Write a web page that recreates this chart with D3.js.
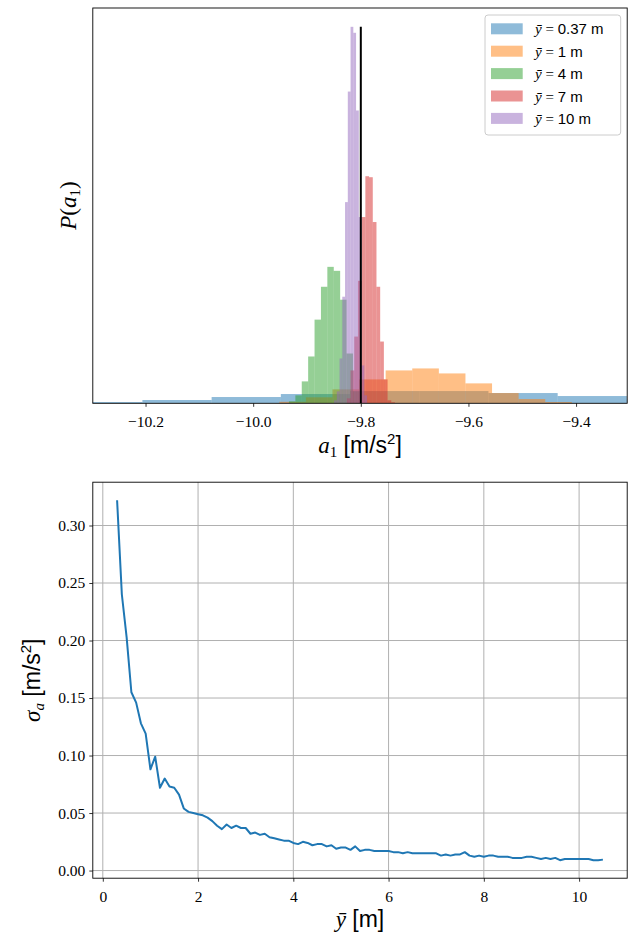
<!DOCTYPE html>
<html>
<head>
<meta charset="utf-8">
<script src="https://cdn.jsdelivr.net/npm/d3@7"></script>
<style>
  body { margin: 0; background: #fff; }
  svg { display: block; }
</style>
</head>
<body>
<script>
// ---- data ----
const meanHeights = ["0.37", "1", "4", "7", "10"];
const binStart = [-10.463, -9.9515, -9.9335, -9.8259, -9.8497];
const binWidth = [0.1286, 0.04942, 0.01189, 0.006875, 0.00511];
const dens037 = [0.05, 0.13, 0.33, 0.63, 0.93, 1.23, 1.23, 1.03, 0.73, 0.4];
const dens1 = [0.15, 0.6, 1.4, 2.4, 3.3, 3.5, 3.0, 2.0, 1.03, 0.43, 0.13];
const dens4 = [0.2, 0.8, 2.2, 4.7, 8.4, 11.7, 13.7, 13.3, 10.4, 5.0, 1.2];
const dens7 = [0.5, 3.3, 6.7, 12.3, 18.7, 22.8, 22.7, 18.2, 11.7, 6.2, 2.4, 0.3, 0.1];
const dens10 = [0.3, 1.2, 4.5, 10.7, 20.2, 31.3, 37.8, 37.2, 29.4, 18.7, 3.8, 0.8];
const gRef = -9.8;
const a1Ticks = [-10.2, -10.0, -9.8, -9.6, -9.4];

const yBar = [0.3, 0.4, 0.5, 0.6, 0.7, 0.8, 0.9, 1.0, 1.1, 1.2, 1.3, 1.4, 1.5, 1.6, 1.7, 1.8, 1.9,
  2.0, 2.1, 2.2, 2.3, 2.4, 2.5, 2.6, 2.7, 2.8, 2.9, 3.0, 3.1, 3.2, 3.3, 3.4, 3.5, 3.6, 3.7, 3.8, 3.9,
  4.0, 4.1, 4.2, 4.3, 4.4, 4.5, 4.6, 4.7, 4.8, 4.9, 5.0, 5.1, 5.2, 5.3, 5.4, 5.5, 5.6, 5.7, 5.8, 5.9,
  6.0, 6.1, 6.2, 6.3, 6.4, 6.5, 6.6, 6.7, 6.8, 6.9, 7.0, 7.1, 7.2, 7.3, 7.4, 7.5, 7.6, 7.7, 7.8, 7.9,
  8.0, 8.1, 8.2, 8.3, 8.4, 8.5, 8.6, 8.7, 8.8, 8.9, 9.0, 9.1, 9.2, 9.3, 9.4, 9.5, 9.6, 9.7, 9.8, 9.9,
  10.0, 10.1, 10.2, 10.3, 10.4, 10.5];
const sigmaA = [0.322, 0.240, 0.203, 0.155, 0.146, 0.128, 0.119, 0.088, 0.099, 0.072, 0.080, 0.073, 0.072, 0.066, 0.054, 0.051, 0.050,
  0.049, 0.048, 0.046, 0.043, 0.039, 0.036, 0.040, 0.037, 0.039, 0.037, 0.037, 0.032, 0.033, 0.031, 0.032, 0.029, 0.028, 0.027, 0.026, 0.026,
  0.024, 0.023, 0.025, 0.024, 0.022, 0.023, 0.023, 0.021, 0.022, 0.019, 0.020, 0.020, 0.018, 0.021, 0.017, 0.018, 0.018, 0.017, 0.017, 0.017,
  0.017, 0.016, 0.016, 0.015, 0.016, 0.015, 0.015, 0.015, 0.015, 0.015, 0.015, 0.013, 0.014, 0.013, 0.014, 0.014, 0.016, 0.013, 0.012, 0.013,
  0.012, 0.013, 0.013, 0.012, 0.012, 0.012, 0.011, 0.011, 0.011, 0.012, 0.012, 0.011, 0.010, 0.011, 0.010, 0.011, 0.009, 0.010, 0.010, 0.010,
  0.010, 0.010, 0.010, 0.009, 0.009, 0.0095];
const yBarTicks = [0, 2, 4, 6, 8, 10];
const sigmaTicks = [0, 0.05, 0.10, 0.15, 0.20, 0.25, 0.30];

const colors = ["#1f77b4", "#ff7f0e", "#2ca02c", "#d62728", "#9467bd"];
const serif = "'Liberation Serif', 'DejaVu Serif', serif";
const sans = "'Liberation Sans', Arial, sans-serif";

const W = 631, H = 938;
const svg = d3.select("body").append("svg").attr("width", W).attr("height", H);

// ---- top panel: histograms ----
const topBox = { left: 92.8, top: 8, width: 534.4, height: 395.3 };
const hists = [dens037, dens1, dens4, dens7, dens10].map((dens, i) =>
  dens.map((d, k) => ({ x0: binStart[i] + k * binWidth[i], x1: binStart[i] + (k + 1) * binWidth[i], d, i })));

const x1 = d3.scaleLinear().domain([-10.298, -9.305]).range([0, topBox.width]);
const yMax = d3.max(hists.flat(), b => b.d);
const y1 = d3.scaleLinear().domain([0, yMax * 1.05]).range([topBox.height, 0]);

const g1 = svg.append("g").attr("transform", `translate(${topBox.left},${topBox.top})`);
svg.append("clipPath").attr("id", "clipTop").append("rect")
  .attr("width", topBox.width).attr("height", topBox.height);

const plot1 = g1.append("g").attr("clip-path", "url(#clipTop)");
hists.forEach(h => {
  plot1.selectAll(null)
    .data(h)
    .join("rect")
      .attr("x", b => x1(b.x0))
      .attr("y", b => y1(b.d))
      .attr("width", b => x1(b.x1) - x1(b.x0))
      .attr("height", b => y1(0) - y1(b.d))
      .attr("fill", b => colors[b.i])
      .attr("fill-opacity", 0.5);
});

plot1.append("line")
  .attr("x1", x1(gRef)).attr("x2", x1(gRef))
  .attr("y1", y1(0)).attr("y2", y1(d3.max(dens10)))
  .attr("stroke", "#000").attr("stroke-width", 2);

const ax1 = g1.append("g")
  .attr("transform", `translate(0,${topBox.height})`)
  .call(d3.axisBottom(x1).tickValues(a1Ticks).tickFormat(d3.format(".1f"))
    .tickSize(3.5).tickSizeOuter(0).tickPadding(9.5));
ax1.select(".domain").remove();
ax1.selectAll("line").attr("stroke", "#000").attr("stroke-width", 0.8);
ax1.selectAll("text").attr("font-family", serif).attr("font-size", 15.5).attr("fill", "#000");

g1.append("rect").attr("width", topBox.width).attr("height", topBox.height)
  .attr("fill", "none").attr("stroke", "#000").attr("stroke-width", 0.9);

// axis labels
const xl1 = g1.append("text")
  .attr("x", topBox.width / 2).attr("y", topBox.height + 49.5)
  .attr("text-anchor", "middle").attr("font-size", 23);
xl1.append("tspan").attr("font-family", serif).attr("font-style", "italic").text("a");
xl1.append("tspan").attr("font-family", serif).attr("font-size", 15).attr("dy", 4).text("1");
xl1.append("tspan").attr("font-family", sans).attr("dy", -4).text(" [m/s");
xl1.append("tspan").attr("font-family", sans).attr("font-size", 15).attr("dy", -9).text("2");
xl1.append("tspan").attr("font-family", sans).attr("dy", 9).text("]");

const yl1 = g1.append("text")
  .attr("transform", `translate(-17,${topBox.height / 2}) rotate(-90)`)
  .attr("text-anchor", "middle").attr("font-size", 23).attr("font-family", serif);
yl1.append("tspan").attr("font-style", "italic").text("P");
yl1.append("tspan").text("(");
yl1.append("tspan").attr("font-style", "italic").text("a");
yl1.append("tspan").attr("font-size", 15).attr("dy", 4).text("1");
yl1.append("tspan").attr("dy", -4).text(")");

// legend
const lg = g1.append("g").attr("transform", "translate(392.2,7)");
lg.append("rect").attr("width", 135.7).attr("height", 120).attr("rx", 3)
  .attr("fill", "#fff").attr("fill-opacity", 0.8).attr("stroke", "#ccc").attr("stroke-width", 1);
meanHeights.forEach((m, i) => {
  const row = lg.append("g").attr("transform", `translate(0,${13.8 + i * 22.4})`);
  row.append("rect").attr("x", 6).attr("y", -5.5).attr("width", 31.7).attr("height", 11)
    .attr("fill", colors[i]).attr("fill-opacity", 0.5);
  const t = row.append("text").attr("x", 50).attr("y", 5.5).attr("font-size", 15);
  t.append("tspan").attr("font-family", serif).attr("font-style", "italic").text("ȳ");
  t.append("tspan").attr("font-family", serif).text(" = ");
  t.append("tspan").attr("font-family", sans).text(`${m} m`);
});

// ---- bottom panel: sigma vs mean height ----
const botBox = { left: 92.8, top: 482.2, width: 534.4, height: 396 };
const x2 = d3.scaleLinear().domain([-0.21, 11.01]).range([0, botBox.width]);
const y2 = d3.scaleLinear().domain([-0.00665, 0.33765]).range([botBox.height, 0]);

const g2 = svg.append("g").attr("transform", `translate(${botBox.left},${botBox.top})`);

g2.append("g").selectAll("line").data(yBarTicks).join("line")
  .attr("x1", d => x2(d)).attr("x2", d => x2(d)).attr("y1", 0).attr("y2", botBox.height)
  .attr("stroke", "#b0b0b0").attr("stroke-width", 1);
g2.append("g").selectAll("line").data(sigmaTicks).join("line")
  .attr("y1", d => y2(d)).attr("y2", d => y2(d)).attr("x1", 0).attr("x2", botBox.width)
  .attr("stroke", "#b0b0b0").attr("stroke-width", 1);

const line = d3.line().x((d, i) => x2(yBar[i])).y(d => y2(d));
g2.append("path").datum(sigmaA)
  .attr("d", line).attr("fill", "none")
  .attr("stroke", colors[0]).attr("stroke-width", 2).attr("stroke-linejoin", "round");

const ax2 = g2.append("g")
  .attr("transform", `translate(0,${botBox.height})`)
  .call(d3.axisBottom(x2).tickValues(yBarTicks).tickFormat(d3.format("d"))
    .tickSize(3.5).tickSizeOuter(0).tickPadding(9.5));
const ay2 = g2.append("g")
  .call(d3.axisLeft(y2).tickValues(sigmaTicks).tickFormat(d3.format(".2f"))
    .tickSize(3.5).tickSizeOuter(0).tickPadding(4));
[ax2, ay2].forEach(a => {
  a.select(".domain").remove();
  a.selectAll("line").attr("stroke", "#000").attr("stroke-width", 0.8);
  a.selectAll("text").attr("font-family", serif).attr("font-size", 15.5).attr("fill", "#000");
});

g2.append("rect").attr("width", botBox.width).attr("height", botBox.height)
  .attr("fill", "none").attr("stroke", "#000").attr("stroke-width", 0.9);

const xl2 = g2.append("text")
  .attr("x", botBox.width / 2).attr("y", botBox.height + 48.5)
  .attr("text-anchor", "middle").attr("font-size", 23);
xl2.append("tspan").attr("font-family", serif).attr("font-style", "italic").text("ȳ");
xl2.append("tspan").attr("font-family", sans).text(" [m]");

const yl2 = g2.append("text")
  .attr("transform", `translate(-53,${botBox.height / 2}) rotate(-90)`)
  .attr("text-anchor", "middle").attr("font-size", 23);
yl2.append("tspan").attr("font-family", serif).attr("font-style", "italic").text("σ");
yl2.append("tspan").attr("font-family", serif).attr("font-style", "italic").attr("font-size", 15).attr("dy", 4).text("a");
yl2.append("tspan").attr("font-family", sans).attr("dy", -4).text(" [m/s");
yl2.append("tspan").attr("font-family", sans).attr("font-size", 15).attr("dy", -9).text("2");
yl2.append("tspan").attr("font-family", sans).attr("dy", 9).text("]");
</script>
</body>
</html>
